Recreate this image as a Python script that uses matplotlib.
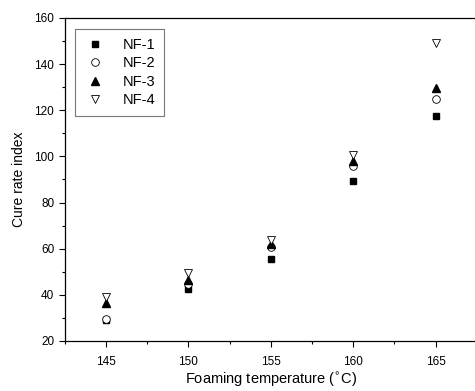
import numpy as np
import matplotlib.pyplot as plt
from matplotlib.ticker import MultipleLocator

plt.rcParams['font.family'] = ['Liberation Sans', 'DejaVu Sans']

# foaming temperatures (C) and cure rate index per compound
temps = [145, 150, 155, 160, 165]
nf1 = [29.0, 42.5, 55.5, 89.2, 117.5]
nf2 = [29.5, 44.5, 60.7, 96.0, 124.8]
nf3 = [36.5, 46.4, 62.0, 98.0, 129.5]
nf4 = [39.0, 49.3, 63.8, 100.5, 149.0]

fig = plt.figure(figsize=(4.75, 3.91), dpi=100)
# axes runs just past the right edge, like the cropped original
ax = fig.add_axes([0.136, 0.128, 0.868, 0.826])

ax.plot(temps, nf1, ls='none', marker='s', ms=5, mfc='black', mec='black', label='NF-1')
ax.plot(temps, nf2, ls='none', marker='o', ms=5.5, mfc='white', mec='black', mew=0.6, label='NF-2')
ax.plot(temps, nf3, ls='none', marker='^', ms=6, mfc='black', mec='black', label='NF-3')
ax.plot(temps, nf4, ls='none', marker='v', ms=6, mfc='white', mec='black', mew=0.6, label='NF-4')

ax.set_xlim(142.5, 167.5)
ax.set_ylim(20, 160)
ax.xaxis.set_major_locator(MultipleLocator(5))
ax.xaxis.set_minor_locator(MultipleLocator(2.5))
ax.yaxis.set_major_locator(MultipleLocator(20))
ax.yaxis.set_minor_locator(MultipleLocator(10))
ax.tick_params(which='both', direction='out', labelsize=8.5, width=0.8)
ax.tick_params(which='major', length=4)
ax.tick_params(axis='x', which='major', pad=7)
ax.tick_params(which='minor', length=2.5)

for s in ax.spines.values():
    s.set_linewidth(0.9)

ax.set_xlabel('Foaming temperature ($^{\\circ}$C)', fontsize=10.5, labelpad=2)
ax.set_ylabel('Cure rate index', fontsize=10, labelpad=6)

leg = ax.legend(loc='upper left', bbox_to_anchor=(0.025, 0.965), fontsize=10.5,
                frameon=True, fancybox=False, edgecolor='#555555',
                handletextpad=1.2, borderpad=0.6, labelspacing=0.3,
                handlelength=1.5, borderaxespad=0)
leg.get_frame().set_linewidth(0.8)

fig.savefig('out.png', dpi=100)
